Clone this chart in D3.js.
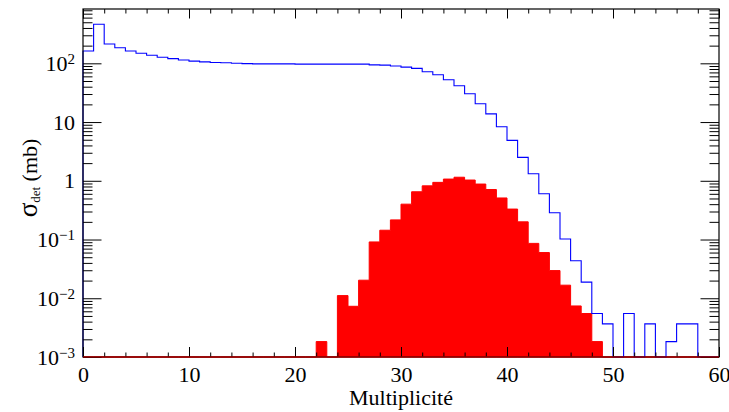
<!DOCTYPE html>
<html>
<head>
<meta charset="utf-8">
<script src="https://cdn.jsdelivr.net/npm/d3@7"></script>
<style>
  body { margin: 0; background: #fff; }
  svg { display: block; }
</style>
</head>
<body>
<svg id="chart" width="729" height="412"></svg>
<script>
// bins of width 1, from 0 to 60
var binEdges = d3.range(0, 61);
// total (blue outline)
var totalSigma = [162, 462, 213, 184, 162, 148, 137, 127, 120, 114,
                  109, 106, 103, 102, 100, 99, 98, 98, 98, 98,
                  97, 97, 97, 97, 97, 97, 97, 94, 93, 90,
                  86, 82, 72, 64, 52.5, 41.5, 30.3, 20.5, 13.8, 8.3,
                  4.88, 2.5, 1.32, 0.60, 0.286, 0.102, 0.0434, 0.0188, 0.0055, 0.00366,
                  0, 0.0055, 0, 0.00366, 0, 0.00183, 0.00366, 0.00366, 0, 0];
// selected events (red filled)
var selSigma = [0, 0, 0, 0, 0, 0, 0, 0, 0, 0,
                0, 0, 0, 0, 0, 0, 0, 0, 0, 0,
                0, 0, 0.00183, 0, 0.0111, 0.0073, 0.0203, 0.091, 0.144, 0.216,
                0.40, 0.65, 0.82, 0.94, 1.07, 1.15, 1.03, 0.88, 0.71, 0.51,
                0.33, 0.20, 0.086, 0.060, 0.0296, 0.0167, 0.0074, 0.0055, 0.00183, 0,
                0, 0, 0, 0, 0, 0, 0, 0, 0, 0];
var xMajor = [0, 10, 20, 30, 40, 50, 60];
var yDecades = [1e-3, 1e-2, 1e-1, 1, 10, 100];
var yLabels = [["10", "\u22123"], ["10", "\u22122"], ["10", "\u22121"], ["1", ""], ["10", ""], ["10", "2"]];

var FONT = "'Liberation Serif', Tinos, 'Times New Roman', Times, 'Nimbus Roman', 'Nimbus Roman No9 L', FreeSerif, 'Noto Serif', 'DejaVu Serif', serif";

var svg = d3.select("#chart");
var L = 83, R = 719, T = 9, B = 357;
var yMin = 1e-3, yMax = 841;

var x = d3.scaleLinear().domain([0, 60]).range([L, R]);
var y = d3.scaleLog().domain([yMin, yMax]).range([B, T]).clamp(true);

function yv(v) { return y(v > yMin ? v : yMin); }

// minor y ticks: 2..9 per decade
var yMinor = [];
yDecades.forEach(function (d) {
  for (var k = 2; k <= 9; k++) if (d * k < yMax) yMinor.push(d * k);
});
var xMinor = d3.range(0, 61, 2).filter(function (v) { return v % 10 !== 0; });

// histograms
function steps(arr) {
  var pts = arr.map(function (v, i) { return { x: binEdges[i], v: v }; });
  pts.push({ x: 60, v: arr[arr.length - 1] });
  return pts;
}

var area = d3.area()
  .curve(d3.curveStepAfter)
  .x(function (d) { return x(d.x); })
  .y0(B)
  .y1(function (d) { return yv(d.v); });

svg.append("path")
  .datum(steps(selSigma))
  .attr("d", area)
  .attr("fill", "#ff0000")
  .attr("stroke", "#ff0000")
  .attr("stroke-width", 1);

var line = d3.line()
  .curve(d3.curveStepAfter)
  .x(function (d) { return x(d.x); })
  .y(function (d) { return yv(d.v); });

var bluePts = [{ x: 0, v: 0 }].concat(steps(totalSigma));
svg.append("path")
  .datum(bluePts)
  .attr("d", line)
  .attr("fill", "none")
  .attr("stroke", "#0000ff")
  .attr("stroke-width", 1.1);

// axes
function clean(g) {
  g.attr("font-family", FONT);
  g.select(".domain").remove();
  g.selectAll("line").attr("stroke", "#000");
}

svg.append("g").attr("transform", "translate(0," + B + ")")
  .call(d3.axisBottom(x).tickValues(xMinor).tickSize(-4.5).tickFormat(""))
  .call(clean);
svg.append("g").attr("transform", "translate(0," + B + ")")
  .call(d3.axisBottom(x).tickValues(xMajor).tickSize(-10).tickPadding(9).tickFormat(d3.format("d")))
  .call(clean)
  .selectAll("text").attr("font-size", 22).attr("font-family", FONT).attr("fill", "#000");
svg.append("g").attr("transform", "translate(0," + T + ")")
  .call(d3.axisTop(x).tickValues(xMinor).tickSize(-4.5).tickFormat(""))
  .call(clean);
svg.append("g").attr("transform", "translate(0," + T + ")")
  .call(d3.axisTop(x).tickValues(xMajor).tickSize(-9.5).tickFormat(""))
  .call(clean);

svg.append("g").attr("transform", "translate(" + L + ",0)")
  .call(d3.axisLeft(y).tickValues(yMinor).tickSize(-9.5).tickFormat(""))
  .call(clean);
var yAx = svg.append("g").attr("transform", "translate(" + L + ",0)")
  .call(d3.axisLeft(y).tickValues(yDecades).tickSize(-18.5).tickPadding(8).tickFormat(""))
  .call(clean);
yAx.selectAll(".tick text").each(function (d, i) {
  var t = d3.select(this).attr("font-size", 22).attr("font-family", FONT).attr("fill", "#000");
  t.append("tspan").text(yLabels[i][0]);
  if (yLabels[i][1]) {
    t.append("tspan").attr("dy", "-0.45em").attr("font-size", 15).text(yLabels[i][1]);
  }
});
svg.append("g").attr("transform", "translate(" + R + ",0)")
  .call(d3.axisRight(y).tickValues(yMinor).tickSize(-9.5).tickFormat(""))
  .call(clean);
svg.append("g").attr("transform", "translate(" + R + ",0)")
  .call(d3.axisRight(y).tickValues(yDecades).tickSize(-18.5).tickFormat(""))
  .call(clean);

// frame
svg.append("rect")
  .attr("x", L).attr("y", T).attr("width", R - L).attr("height", B - T)
  .attr("fill", "none").attr("stroke", "#000").attr("stroke-width", 1.2);
// red baseline drawn over the frame bottom
svg.append("line")
  .attr("x1", L).attr("x2", R).attr("y1", B).attr("y2", B)
  .attr("stroke", "#cc0000").attr("stroke-width", 1.2);

// titles
svg.append("text")
  .attr("x", (L + R) / 2).attr("y", 405)
  .attr("text-anchor", "middle")
  .attr("font-family", FONT)
  .attr("font-size", 22)
  .text("Multiplicit\u00e9");

var yt = svg.append("text")
  .attr("transform", "translate(37,178) rotate(-90)")
  .attr("text-anchor", "middle")
  .attr("font-family", FONT)
  .attr("font-size", 22);
yt.append("tspan").attr("font-size", 27).text("\u03c3");
yt.append("tspan").attr("dy", "3").attr("font-size", 13).text("det");
yt.append("tspan").attr("dy", "-3").text(" (mb)");
</script>
</body>
</html>
